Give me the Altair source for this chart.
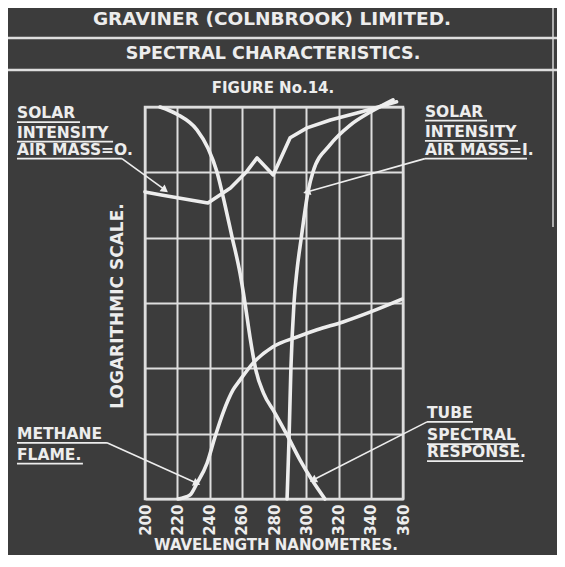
import altair as alt
import pandas as pd

# ---------------- data (wavelength in nm, height in decades of the log scale) ----------------
x_ticks = [200, 220, 240, 260, 280, 300, 320, 340, 360]
y_ticks = [0, 1, 2, 3, 4, 5, 6]

am0_nm = [200, 211, 239, 253, 263, 269.5, 279.5, 290, 300.5, 315, 335, 356]
am0_val = [4.70, 4.65, 4.53, 4.76, 5.01, 5.22, 4.96, 5.53, 5.68, 5.80, 5.93, 6.08]

am1_nm = [288.1, 289.3, 290.5, 292.4, 294.3, 296.7, 301.1, 304.2, 314.7, 327.1, 339.5, 353.8]
am1_val = [0.0, 0.90, 2.01, 3.00, 3.51, 3.96, 4.70, 5.01, 5.42, 5.72, 5.92, 6.11]

tube_nm = [209.3, 219.8, 232.2, 239.1, 244.6, 249.6, 254.0, 258.9, 262.0, 265.1, 268.8,
           273.5, 280.5, 288.1, 296.1, 303.6, 311.6]
tube_val = [6.00, 5.89, 5.65, 5.37, 5.01, 4.50, 4.01, 3.46, 3.00, 2.48, 1.97,
            1.62, 1.32, 0.98, 0.60, 0.29, 0.0]

meth_nm = [220.5, 227.9, 232.2, 238.5, 243.4, 248.4, 254.6, 258.9, 267.0, 279.4, 294.3,
           306.7, 322.8, 339.5, 359.4]
meth_val = [0.0, 0.06, 0.24, 0.55, 0.95, 1.32, 1.67, 1.82, 2.08, 2.33, 2.48,
            2.59, 2.71, 2.86, 3.06]

# annotation labels: text lines, left x, baselines
lab_lines = [
    ["SOLAR", "INTENSITY", "AIR MASS=O."],
    ["SOLAR", "INTENSITY", "AIR MASS=I."],
    ["METHANE", "FLAME."],
    ["TUBE", "SPECTRAL", "RESPONSE."],
]
lab_x = [120.6, 373.6, 120.6, 374.9]
lab_base = [[5.83, 5.53, 5.27], [5.85, 5.54, 5.27], [0.92, 0.60], [1.24, 0.90, 0.64]]
lab_under = [[5.77, 5.47, 5.21], [5.79, 5.48, 5.21], [0.86, 0.54], [1.18, 0.84, 0.58]]
lab_under_end = [[159.7, 180.2, 185.7], [412.1, 431.3, 436.9], [176.4, 161.5], [403.4, 431.3, 434.4]]
# arrows: tail (x, y) -> tip (x, y), head angle
arr_x = [185.7, 373.6, 176.4, 374.9]
arr_y = [5.21, 5.21, 0.86, 1.18]
arr_x2 = [212.4, 300.3, 232.2, 304.2]
arr_y2 = [4.73, 4.70, 0.24, 0.29]
arr_angle = [37, 164, 23, 153]

# ---------------- style ----------------
BG = "#3c3c3c"
FG = "#ededed"
GRID = "#dedede"
FONT = "DejaVu Sans"

xs = alt.Scale(domain=[200, 360], nice=False, zero=False)
ys = alt.Scale(domain=[0, 6], nice=False, zero=False)

x_axis = alt.Axis(
    values=x_ticks, grid=True, gridColor=GRID, gridWidth=2, gridOpacity=1,
    ticks=False, domain=False, labelAngle=270, labelFont=FONT, labelFontSize=15,
    labelFontWeight="bold", labelColor=FG, labelPadding=5, title=None,
    labelFlush=False, labelOverlap=False)
y_axis = alt.Axis(
    values=y_ticks, grid=True, gridColor=GRID, gridWidth=2, gridOpacity=1,
    ticks=False, domain=False, labels=False, title=None)


def X(f):
    return alt.X(f, scale=xs, axis=x_axis)


def Y(f):
    return alt.Y(f, scale=ys, axis=y_axis)


def curve(nm, val, interp):
    return alt.Chart(pd.DataFrame({"nm": nm, "val": val})).mark_line(
        color=FG, strokeWidth=3.6, strokeCap="round", strokeJoin="round", interpolate=interp
    ).encode(x=X("nm:Q"), y=Y("val:Q"))


c_am0 = curve(am0_nm, am0_val, "linear")
c_am1 = curve(am1_nm, am1_val, "monotone")
c_tube = curve(tube_nm, tube_val, "monotone")
c_meth = curve(meth_nm, meth_val, "monotone")

# annotation text
rows = []
for i, lines in enumerate(lab_lines):
    for j, t in enumerate(lines):
        rows.append({"t": t, "x": lab_x[i], "y": lab_base[i][j],
                     "ux2": lab_under_end[i][j], "uy": lab_under[i][j]})
lab_df = pd.DataFrame(rows)

lab_text = alt.Chart(lab_df).mark_text(
    align="left", baseline="alphabetic", font=FONT, fontSize=15.5, fontWeight="bold", color=FG
).encode(x=X("x:Q"), y=Y("y:Q"), text="t:N")

lab_ul = alt.Chart(lab_df).mark_rule(color=FG, strokeWidth=1.8).encode(
    x=X("x:Q"), x2="ux2:Q", y=Y("uy:Q"))

arr_df = pd.DataFrame({"x": arr_x, "y": arr_y, "x2": arr_x2, "y2": arr_y2, "a": arr_angle})
arr_line = alt.Chart(arr_df).mark_rule(color=FG, strokeWidth=1.6).encode(
    x=X("x:Q"), y=Y("y:Q"), x2="x2:Q", y2="y2:Q")
arr_head = alt.Chart(arr_df).mark_point(
    shape="triangle-right", filled=True, color=FG, size=70, opacity=1
).encode(x=X("x2:Q"), y=Y("y2:Q"), angle=alt.Angle("a:Q", scale=None))


# header texts and rules (pixel positions relative to plot area)
def txt(t, x, y, size, angle=0):
    return alt.Chart(pd.DataFrame({"t": [t]})).mark_text(
        font=FONT, fontSize=size, fontWeight="bold", color=FG, align="center",
        baseline="middle", angle=angle
    ).encode(x=alt.value(x), y=alt.value(y), text="t:N")


h1 = txt("GRAVINER  (COLNBROOK)  LIMITED.", 127, -88, 18.5)
h2 = txt("SPECTRAL  CHARACTERISTICS.", 128, -53, 17.5)
h3 = txt("FIGURE No.14.", 128, -19, 15)
xt = txt("WAVELENGTH  NANOMETRES.", 131, 438, 15)
yt = txt("LOGARITHMIC  SCALE.", -27, 199, 17, angle=270)


def hrule(y):
    return alt.Chart(pd.DataFrame({"k": [0]})).mark_rule(color=GRID, strokeWidth=2.5).encode(
        x=alt.value(-138), x2=alt.value(412), y=alt.value(y))


r1 = hrule(-69)
r2 = hrule(-37)
rv = alt.Chart(pd.DataFrame({"k": [0]})).mark_rule(color=GRID, strokeWidth=2, opacity=0.7).encode(
    x=alt.value(408), y=alt.value(-99), y2=alt.value(120))

chart = alt.layer(
    c_am0, c_am1, c_tube, c_meth, lab_text, lab_ul, arr_line, arr_head,
    h1, h2, h3, xt, yt, r1, r2, rv
).properties(
    width=258, height=392,
    autosize=alt.AutoSizeParams(type="none"),
    padding={"left": 137, "top": 99, "right": 154, "bottom": 56},
    background=BG,
).configure_view(stroke=GRID, strokeWidth=2.5)

chart.save("out.html", embed_options={"renderer": "svg", "actions": False})
